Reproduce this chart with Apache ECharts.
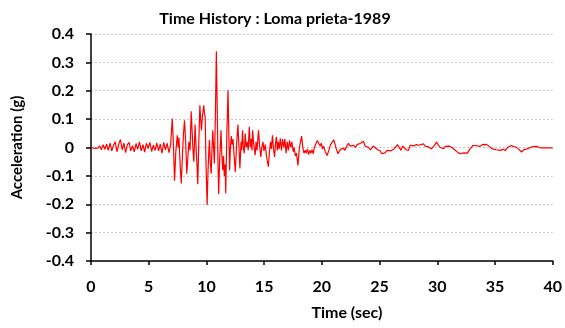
<!DOCTYPE html>
<html><head><meta charset="utf-8">
<script src="https://cdn.jsdelivr.net/npm/echarts@6/dist/echarts.min.js"></script>
<style>html,body{margin:0;padding:0;background:#fff}#c{width:565px;height:328px}</style>
</head><body><div id="c"></div>
<script>
const titleText = 'Time History : Loma prieta-1989';
const xName = 'Time (sec)';
const yName = 'Acceleration (g)';
const xTicks = [0,5,10,15,20,25,30,35,40];
const yTicks = [-0.4,-0.3,-0.2,-0.1,0,0.1,0.2,0.3,0.4];

// pre-event
const timePre = [0,0.15,0.3,0.45,0.6,0.75,0.9,1.05,1.2,1.35,1.5,1.65,1.8,1.95,2.1,2.25,2.4,2.55,2.7,2.85,3.0,3.15,3.3,3.45,3.6,3.75,3.9,4.05,4.2,4.35,4.5,4.65,4.8,4.95,5.1,5.25,5.4,5.55,5.7,5.85,6.0,6.15,6.3,6.45,6.6,6.75];
const accPre = [0,0.002,-0.003,0.004,-0.002,0.006,-0.008,0.01,-0.006,0.012,-0.01,0.015,-0.012,0.008,0.02,-0.015,0.012,0.028,-0.008,0.015,-0.018,0.01,0.018,-0.012,0.006,-0.015,0.014,-0.006,0.02,-0.012,0.01,-0.016,0.015,-0.004,0.018,-0.014,0.008,-0.01,0.016,-0.012,0.012,-0.02,0.018,-0.008,0.015,-0.018];

// strong motion
const timeStrong = [6.9,7.04,7.14,7.24,7.34,7.47,7.55,7.62,7.72,7.82,7.92,8.0,8.1,8.2,8.3,8.4,8.48,8.58,8.68,8.78,8.85,8.91,9.02,9.1,9.18,9.25,9.34,9.43,9.5,9.57,9.65,9.77,9.83,9.89,9.96,10.06,10.14,10.2,10.26,10.33,10.41,10.48,10.55,10.62,10.69,10.78,10.86,10.95,11.0,11.06,11.15,11.26,11.33,11.41,11.48,11.55,11.62,11.67,11.77,11.87,11.95,12.01,12.08,12.15,12.22,12.3,12.4,12.5,12.6,12.73,12.82,12.9,13.0,13.05,13.13,13.2,13.28,13.36,13.45,13.55,13.62,13.71,13.8,13.88,13.95,14.0,14.1,14.22,14.3,14.38,14.51,14.6,14.71,14.8,14.9,14.98,15.1,15.2,15.37,15.45,15.55,15.63,15.72,15.8,15.9,15.98,16.06,16.15,16.22,16.3,16.4,16.5,16.6,16.7,16.8,16.9,17.0,17.1,17.2,17.3,17.4,17.52,17.6,17.7,17.8,17.93,18.05,18.15,18.25,18.35];
const accStrong = [0.01,0.102,0.01,-0.117,-0.02,0.043,0.0,0.035,-0.06,-0.127,-0.03,0.04,0.096,0.02,-0.092,-0.03,0.02,-0.01,0.128,0.04,-0.02,-0.05,0.081,0.0,-0.06,-0.129,0.02,0.149,0.1,0.06,0.11,0.149,0.12,0.108,-0.05,-0.203,-0.08,-0.02,0.026,-0.05,-0.092,-0.01,0.061,0.0,-0.056,0.12,0.339,0.1,-0.05,-0.164,-0.04,0.061,-0.02,-0.08,-0.03,-0.1,-0.06,-0.162,0.05,0.202,0.03,-0.08,0.0,0.04,0.01,0.03,-0.03,-0.086,0.0,0.081,0.0,-0.074,0.02,-0.01,0.061,0.0,-0.02,0.049,0.0,0.02,-0.01,0.073,0.0,0.03,-0.01,0.061,0.01,-0.027,0.02,-0.01,0.061,0.01,-0.033,0.0,0.02,-0.012,0.01,-0.03,-0.068,-0.02,0.02,-0.005,0.043,0.0,-0.033,0.01,0.038,-0.01,0.02,-0.005,0.032,-0.01,0.03,0.0,0.03,-0.02,0.02,-0.01,0.025,0.0,0.02,-0.015,0.0,-0.03,-0.02,-0.063,0.0,0.02,0.04,0.0];

// coda
const timeCoda = [18.45,18.55,18.65,18.75,18.85,18.95,19.05,19.15,19.25,19.35,19.45,19.6,19.74,19.85,19.95,20.05,20.15,20.3,20.46,20.6,20.75,20.9,21.03,21.15,21.25,21.4,21.55,21.7,21.85,22.0,22.15,22.3,22.45,22.6,22.75,22.9,23.05,23.2,23.35,23.5,23.6,23.75,23.9,24.05,24.2,24.3,24.45,24.6,24.75,24.9,25.05,25.2,25.35,25.5,25.65,25.8,25.95,26.1,26.25,26.4,26.55,26.7,26.85,27.0,27.16,27.3,27.5,27.65,27.8,28.0,28.2,28.4,28.55,28.8,28.95,29.1,29.25,29.5,29.7,29.94,30.1,30.25,30.4,30.55,30.7,30.85,31.0,31.1,31.3,31.5,31.65,31.8,32.0,32.15,32.3,32.45,32.6,32.75,32.9,33.1,33.35,33.5,33.7,33.9,34.25,34.5,34.7,34.9,35.1,35.3,35.5,35.7,35.9,36.1,36.4,36.6,36.8,37.0,37.15,37.3,37.5,37.7,37.9,38.1,38.3,38.6,38.8,39.0,39.3,39.6,40.0];
const accCoda = [-0.02,-0.01,-0.02,-0.005,-0.025,-0.01,-0.02,-0.008,-0.022,0.0,0.01,0.025,0.03,0.005,0.015,-0.005,0.005,-0.015,-0.028,-0.01,0.01,0.015,0.027,0.01,-0.005,-0.022,-0.01,-0.015,-0.002,-0.01,0.005,0.015,0.005,0.0,0.008,0.0,0.01,0.005,0.015,0.018,0.022,0.005,0.012,0.0,-0.008,-0.015,0.005,0.008,-0.005,-0.01,-0.012,-0.022,-0.015,-0.018,-0.01,-0.005,-0.012,-0.01,-0.005,0.0,0.01,0.0,-0.01,0.005,0.01,-0.008,-0.01,0.008,0.01,0.006,0.01,0.008,0.012,0.013,0.005,0.0,0.002,-0.005,0.005,0.019,0.008,0.0,-0.005,-0.004,0.004,0.002,0.005,0.011,0.0,-0.008,-0.012,-0.018,-0.022,-0.016,-0.019,-0.014,-0.02,-0.01,-0.002,0.007,0.007,0.006,0.004,0.01,0.011,0.004,-0.003,-0.006,-0.008,-0.009,-0.01,-0.006,-0.01,0.0,0.007,0.003,0.002,-0.004,-0.01,-0.016,-0.008,-0.006,-0.003,0.001,0.003,0.004,0.0,-0.001,-0.001,-0.001,-0.001];

const times = timePre.concat(timeStrong, timeCoda);
const accs = accPre.concat(accStrong, accCoda);
const seriesData = times.map((t, i) => [t, accs[i]]);

const FONT = 'Lato';
const chart = echarts.init(document.getElementById('c'), null, {renderer: 'canvas'});
chart.setOption({
  animation: false,
  backgroundColor: '#fff',
  title: {
    text: titleText, left: 270, top: 6, textAlign: 'center',
    textStyle: {fontFamily: FONT, fontWeight: 'bold', fontSize: 16, color: '#000'}
  },
  grid: {left: 91, right: 10, top: 34, bottom: 67, containLabel: false},
  xAxis: {
    type: 'value', min: xTicks[0], max: xTicks[xTicks.length-1], interval: 5,
    name: xName, nameLocation: 'middle', nameGap: 44,
    nameTextStyle: {fontFamily: FONT, fontWeight: 'bold', fontSize: 16, color: '#000', padding: [0, 0, 0, 50]},
    axisLine: {onZero: false, lineStyle: {color: '#000', width: 1.5}},
    axisTick: {show: true, inside: false, length: 4, lineStyle: {color: '#000', width: 1.5}},
    axisLabel: {fontFamily: FONT, fontWeight: 'bold', fontSize: 16, color: '#000', margin: 18},
    splitLine: {show: false}
  },
  yAxis: {
    type: 'value', min: yTicks[0], max: yTicks[yTicks.length-1], interval: 0.1,
    name: yName, nameLocation: 'middle', nameGap: 66, nameRotate: 90,
    nameTextStyle: {fontFamily: FONT, fontWeight: 'bold', fontSize: 15, color: '#000'},
    axisLine: {show: true, lineStyle: {color: '#000', width: 1.5}},
    axisTick: {show: true, inside: false, length: 5, lineStyle: {color: '#000', width: 1.5}},
    axisLabel: {fontFamily: FONT, fontWeight: 'bold', fontSize: 16, color: '#000', margin: 17,
      formatter: v => { const r = Math.round(v*10)/10; return r === 0 ? '0' : String(r); }},
    splitLine: {show: true, lineStyle: {color: '#c8c8c8', width: 1, type: [2, 2]}}
  },
  series: [{
    type: 'line', data: seriesData, showSymbol: false, symbol: 'none',
    lineStyle: {color: '#ff0000', width: 1.2}, smooth: false
  }]
});
</script></body></html>
